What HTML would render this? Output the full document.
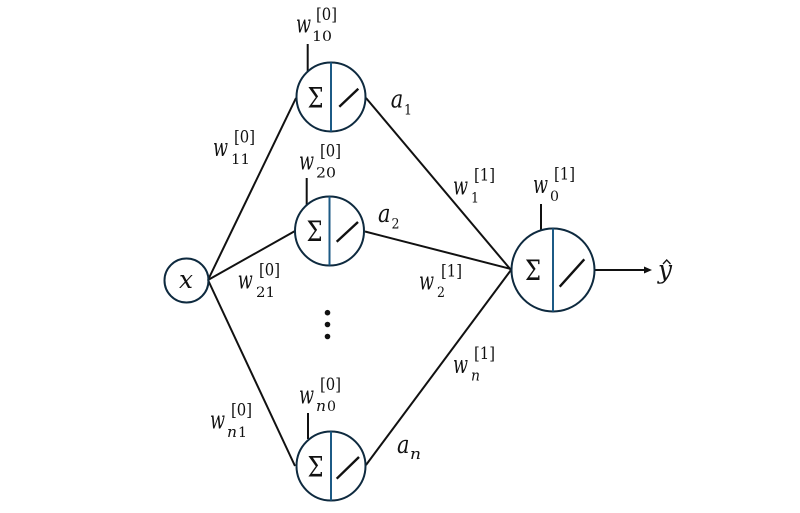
<!DOCTYPE html>
<html><head><meta charset="utf-8"><style>
html,body{margin:0;padding:0;background:#fff;width:800px;height:513px;overflow:hidden}
svg{display:block}
text{font-family:"DejaVu Serif","Liberation Serif",serif;fill:#111}
.w{font-size:25px;font-style:italic}
.s{font-size:14px}
.p{font-size:17px;transform:translateY(-2.5px)}
.i{font-size:15px;font-style:italic}
.g{font-size:28px}
.l line{stroke:#111;stroke-width:2}
.c{fill:none;stroke:#0e2a3f;stroke-width:2}
.d{stroke:#1c5a85;stroke-width:2}
.k{stroke:#111;stroke-width:2.4}
</style></head><body>
<svg width="800" height="513" viewBox="0 0 800 513" xmlns="http://www.w3.org/2000/svg">
<g class="l">
<line x1="208" y1="280" x2="296" y2="98"/>
<line x1="208" y1="280" x2="295" y2="231"/>
<line x1="208" y1="280" x2="295" y2="466"/>
<line x1="366" y1="98" x2="511" y2="270"/>
<line x1="365" y1="231.5" x2="511" y2="269"/>
<line x1="366" y1="465" x2="511" y2="270"/>
<line x1="307.7" y1="44" x2="307.7" y2="71"/>
<line x1="306.7" y1="178" x2="306.7" y2="205"/>
<line x1="308" y1="413" x2="308" y2="439"/>
<line x1="541" y1="204" x2="541" y2="230"/>
<line x1="594" y1="270" x2="646" y2="270"/>
</g>
<polygon points="652,270 644,266.5 644,273.5" fill="#111"/>
<circle class="c" cx="186.5" cy="280.5" r="22"/>
<circle class="c" cx="331" cy="97" r="34.5"/>
<circle class="c" cx="329.5" cy="231" r="34.5"/>
<circle class="c" cx="331" cy="466" r="34.5"/>
<circle class="c" cx="553" cy="270" r="41.5"/>
<line class="d" x1="331" y1="62.5" x2="331" y2="131.5"/>
<line class="d" x1="329.5" y1="196.5" x2="329.5" y2="265.5"/>
<line class="d" x1="331" y1="431.5" x2="331" y2="500.5"/>
<line class="d" x1="553" y1="228.5" x2="553" y2="311.5"/>
<line class="k" x1="339.3" y1="106.7" x2="358.3" y2="88.7"/>
<line class="k" x1="336.7" y1="241.7" x2="358" y2="222"/>
<line class="k" x1="336.7" y1="478.7" x2="359" y2="457"/>
<line class="k" x1="559.7" y1="286.7" x2="584.3" y2="259.3"/>
<circle cx="327.5" cy="312.7" r="2.8" fill="#111"/>
<circle cx="327.5" cy="324.5" r="2.8" fill="#111"/>
<circle cx="327.5" cy="336.5" r="2.8" fill="#111"/>
<text class="g" x="307.5" y="107.5" textLength="16" lengthAdjust="spacingAndGlyphs">Σ</text>
<text class="g" x="306.5" y="241" textLength="16" lengthAdjust="spacingAndGlyphs">Σ</text>
<text class="g" x="307.5" y="476.7" textLength="16" lengthAdjust="spacingAndGlyphs">Σ</text>
<text class="g" x="525" y="280" textLength="16" lengthAdjust="spacingAndGlyphs">Σ</text>
<text class="w" x="179" y="288" textLength="14" lengthAdjust="spacingAndGlyphs">x</text>
<text class="w" x="658" y="278" textLength="14" lengthAdjust="spacingAndGlyphs">y</text>
<polyline points="663,264 666.7,260 670.5,264" fill="none" stroke="#111" stroke-width="1.3"/>

<text class="w" x="296" y="32.5" textLength="15" lengthAdjust="spacingAndGlyphs">w</text>
<text class="s" x="312" y="41" textLength="20" lengthAdjust="spacingAndGlyphs">10</text>
<text class="p" x="316" y="22.7" textLength="21" lengthAdjust="spacingAndGlyphs">[0]</text>

<text class="w" x="213" y="156" textLength="15" lengthAdjust="spacingAndGlyphs">w</text>
<text class="s" x="231" y="164" textLength="19" lengthAdjust="spacingAndGlyphs">11</text>
<text class="p" x="234" y="145" textLength="21" lengthAdjust="spacingAndGlyphs">[0]</text>

<text class="w" x="299" y="169.5" textLength="15" lengthAdjust="spacingAndGlyphs">w</text>
<text class="s" x="316" y="177.5" textLength="20" lengthAdjust="spacingAndGlyphs">20</text>
<text class="p" x="320" y="159" textLength="21" lengthAdjust="spacingAndGlyphs">[0]</text>

<text class="w" x="237.7" y="288.5" textLength="15" lengthAdjust="spacingAndGlyphs">w</text>
<text class="s" x="256" y="297" textLength="19" lengthAdjust="spacingAndGlyphs">21</text>
<text class="p" x="259" y="278" textLength="21" lengthAdjust="spacingAndGlyphs">[0]</text>

<text class="w" x="453" y="194.5" textLength="15" lengthAdjust="spacingAndGlyphs">w</text>
<text class="s" x="471" y="202.5" textLength="8" lengthAdjust="spacingAndGlyphs">1</text>
<text class="p" x="474" y="183" textLength="21" lengthAdjust="spacingAndGlyphs">[1]</text>

<text class="w" x="533" y="193" textLength="15" lengthAdjust="spacingAndGlyphs">w</text>
<text class="s" x="550" y="201" textLength="9" lengthAdjust="spacingAndGlyphs">0</text>
<text class="p" x="554" y="182" textLength="21" lengthAdjust="spacingAndGlyphs">[1]</text>

<text class="w" x="419" y="289.5" textLength="15" lengthAdjust="spacingAndGlyphs">w</text>
<text class="s" x="437" y="297" textLength="8" lengthAdjust="spacingAndGlyphs">2</text>
<text class="p" x="441" y="279" textLength="21" lengthAdjust="spacingAndGlyphs">[1]</text>

<text class="w" x="453" y="373" textLength="15" lengthAdjust="spacingAndGlyphs">w</text>
<text class="i" x="471" y="380.5" textLength="9" lengthAdjust="spacingAndGlyphs">n</text>
<text class="p" x="474" y="361.7" textLength="21" lengthAdjust="spacingAndGlyphs">[1]</text>

<text class="w" x="299" y="403.5" textLength="15" lengthAdjust="spacingAndGlyphs">w</text>
<text class="i" x="316" y="411" textLength="10" lengthAdjust="spacingAndGlyphs">n</text>
<text class="s" x="327" y="411" textLength="9" lengthAdjust="spacingAndGlyphs">0</text>
<text class="p" x="320" y="392.7" textLength="21" lengthAdjust="spacingAndGlyphs">[0]</text>

<text class="w" x="210" y="428.5" textLength="15" lengthAdjust="spacingAndGlyphs">w</text>
<text class="i" x="227" y="437" textLength="10" lengthAdjust="spacingAndGlyphs">n</text>
<text class="s" x="238" y="437" textLength="9" lengthAdjust="spacingAndGlyphs">1</text>
<text class="p" x="231" y="418" textLength="21" lengthAdjust="spacingAndGlyphs">[0]</text>

<text class="w" x="390.7" y="107.7" textLength="12.5" lengthAdjust="spacingAndGlyphs">a</text>
<text class="s" x="404" y="114.5" textLength="8" lengthAdjust="spacingAndGlyphs">1</text>
<text class="w" x="378" y="222" textLength="12.5" lengthAdjust="spacingAndGlyphs">a</text>
<text class="s" x="391.5" y="228.5" textLength="8" lengthAdjust="spacingAndGlyphs">2</text>
<text class="w" x="397" y="453" textLength="12.5" lengthAdjust="spacingAndGlyphs">a</text>
<text class="i" x="410" y="459" textLength="11" lengthAdjust="spacingAndGlyphs">n</text>
</svg>
</body></html>
